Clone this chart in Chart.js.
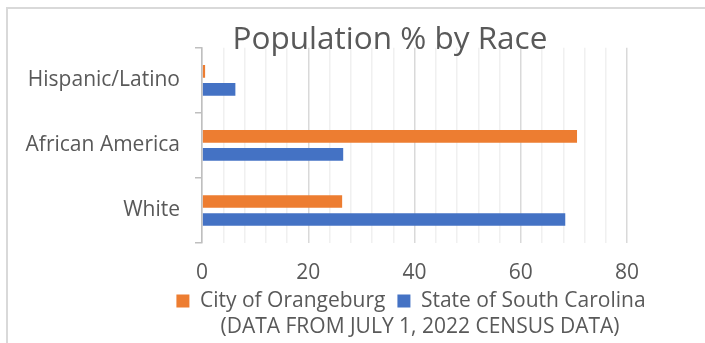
<!DOCTYPE html>
<html>
<head>
<meta charset="utf-8">
<script src="https://cdn.jsdelivr.net/npm/chart.js@4.4.1/dist/chart.umd.min.js"></script>
<style>
  html, body { margin: 0; padding: 0; background: #fff; }
  #wrap { position: relative; width: 705px; height: 343px; overflow: hidden; }
  #frame { position: absolute; left: 6px; top: 7px; right: -10px; bottom: -10px;
           border-left: 2px solid #d9d9d9; border-top: 2px solid #d9d9d9; }
  canvas { position: absolute; left: 0; top: 0; }
</style>
</head>
<body>
<div id="wrap">
  <div id="frame"></div>
  <canvas id="raceChart" width="705" height="343"></canvas>
</div>
<script>
const categories = ['Hispanic/Latino', 'African America', 'White'];
const orangeburg = [0.6, 70.6, 26.4];
const southCarolina = [6.3, 26.6, 68.4];
const xTicks = [0, 20, 40, 60, 80];

const titleText = 'Population % by Race';
const noteText = '(DATA FROM JULY 1, 2022 CENSUS DATA)';
const textColor = '#595959';
const fontFamily = '"Open Sans", sans-serif';

// excel doesn't centre title / legend / note on the plot area, nudge them
const placeBlocks = {
    id: 'placeBlocks',
    afterLayout(chart) {
        const move = function (b, cx, dy) {
            if (!b) return;
            const d = cx - (b.left + b.right) / 2;
            b.left += d; b.right += d;
            b.top += dy; b.bottom += dy;
        };
        move(chart.titleBlock, 390, 0);
        move(chart.legend, 411, -8.5);
        move(chart.boxes.find(b => b.options && b.options.text === noteText), 420, 0);
    }
};

document.addEventListener('DOMContentLoaded', function () {
    const ctx = document.getElementById('raceChart').getContext('2d');
    const raceChart = new Chart(ctx, {
        type: 'bar',
        data: {
            labels: categories,
            datasets: [{
                label: 'City of Orangeburg',
                data: orangeburg,
                backgroundColor: '#ED7D31',
                borderColor: 'rgba(0,0,0,0)',
                borderWidth: { top: 3, bottom: 3, right: 0, left: 0 },
                borderSkipped: false,
                barThickness: 18
            }, {
                label: 'State of South Carolina',
                data: southCarolina,
                backgroundColor: '#4472C4',
                borderColor: 'rgba(0,0,0,0)',
                borderWidth: { top: 3, bottom: 3, right: 0, left: 0 },
                borderSkipped: false,
                barThickness: 18
            }]
        },
        plugins: [placeBlocks],
        options: {
            indexAxis: 'y',
            responsive: false,
            animation: false,
            layout: {
                padding: { left: 0, right: 78, top: 0, bottom: 0 }
            },
            scales: {
                x: {
                    min: 0,
                    max: 80,
                    border: { display: false },
                    afterFit: function (s) { s.height = 44; },
                    grid: {
                        drawTicks: false,
                        color: function (c) {
                            return c.tick && xTicks.includes(c.tick.value) ? '#d9d9d9' : '#f0f0f0';
                        },
                        lineWidth: 1.5
                    },
                    ticks: {
                        stepSize: 4,
                        autoSkip: false,
                        maxRotation: 0,
                        padding: 17,
                        color: textColor,
                        font: { family: fontFamily, size: 21 },
                        callback: function (v) {
                            return xTicks.includes(v) ? v : '';
                        }
                    }
                },
                y: {
                    afterFit: function (s) { s.width = 202; },
                    border: { color: '#bfbfbf', width: 1.5 },
                    grid: {
                        drawOnChartArea: false,
                        offset: true,
                        tickLength: 7,
                        color: '#bfbfbf',
                        lineWidth: 1.5
                    },
                    ticks: {
                        padding: 15,
                        color: textColor,
                        font: { family: fontFamily, size: 21 }
                    }
                }
            },
            plugins: {
                title: {
                    display: true,
                    fullSize: false,
                    text: titleText,
                    color: textColor,
                    font: { family: fontFamily, size: 31.5, weight: 'normal' },
                    padding: { top: 21, bottom: -11 }
                },
                subtitle: {
                    display: true,
                    fullSize: false,
                    position: 'bottom',
                    text: noteText,
                    color: textColor,
                    font: { family: fontFamily, size: 21 },
                    padding: { top: -15.6, bottom: 3.4 }
                },
                legend: {
                    position: 'bottom',
                    labels: {
                        boxWidth: 13,
                        boxHeight: 13,
                        padding: 12,
                        color: textColor,
                        font: { family: fontFamily, size: 21 }
                    }
                },
                tooltip: { enabled: false }
            }
        }
    });
});
</script>
</body>
</html>
